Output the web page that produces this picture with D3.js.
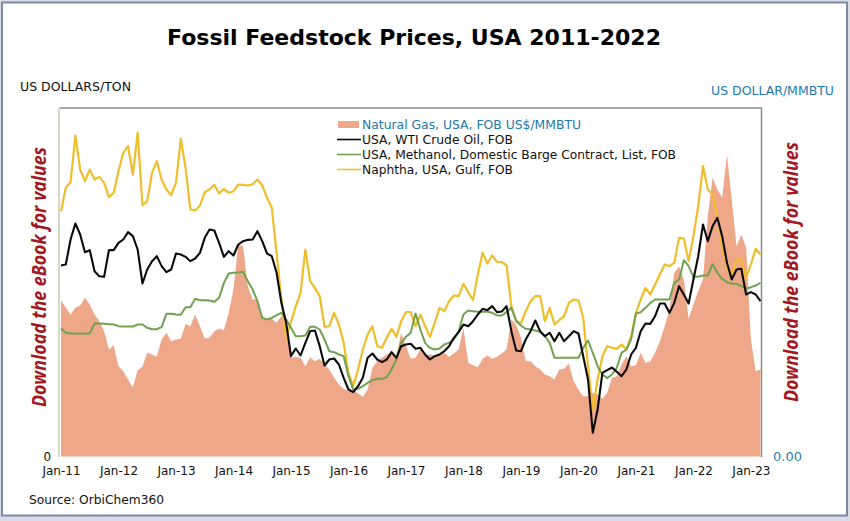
<!DOCTYPE html>
<html><head><meta charset="utf-8">
<script src="https://d3js.org/d3.v7.min.js"></script>
<style>html,body{margin:0;padding:0;background:#d9dce8;}svg{display:block;}text{font-family:"DejaVu Sans",Verdana,sans-serif;}</style>
</head><body><div id="chart"></div>
<script>
const title = "Fossil Feedstock Prices, USA 2011-2022";
const leftAxisTitle = "US DOLLARS/TON";
const rightAxisTitle = "US DOLLAR/MMBTU";
const source = "Source: OrbiChem360";
const watermark = "Download the eBook for values";
const tickLabels = ["Jan-11","Jan-12","Jan-13","Jan-14","Jan-15","Jan-16","Jan-17","Jan-18","Jan-19","Jan-20","Jan-21","Jan-22","Jan-23"];
const seriesNames = ["Natural Gas, USA, FOB US$/MMBTU","USA, WTI Crude Oil, FOB","USA, Methanol, Domestic Barge Contract, List, FOB","Naphtha, USA, Gulf, FOB"];

// Monthly values Jan-11 to Mar-23
const naturalGas = [4.69,4.46,4.26,4.46,4.53,4.76,4.56,4.26,4.06,3.76,3.21,3.34,2.71,2.56,2.31,2.08,2.59,2.69,3.11,3.06,2.99,3.51,3.71,3.46,3.51,3.53,3.98,3.91,4.26,3.91,3.54,3.56,3.76,3.84,3.79,4.31,5.01,6.36,6.31,5.11,4.71,4.71,4.21,4.11,4.13,4.01,4.21,4.11,2.96,2.99,2.96,2.71,2.96,2.86,2.93,2.76,2.61,2.36,2.16,2.03,1.96,2.01,1.89,1.79,2.01,2.66,2.86,2.96,3.06,3.13,3.01,3.71,3.31,2.93,2.96,3.21,3.03,3.06,3.03,3.09,3.11,2.99,3.09,3.21,3.86,2.81,2.74,2.68,2.93,3.03,2.93,2.99,3.09,3.21,4.11,3.96,3.56,2.86,2.86,2.71,2.61,2.46,2.41,2.31,2.61,2.63,2.79,2.26,2.01,1.81,1.81,1.91,1.86,1.73,1.91,2.36,2.41,2.76,3.01,2.71,2.74,3.11,2.81,2.86,3.11,3.46,3.91,4.41,5.51,5.71,5.31,4.13,4.56,4.96,5.31,7.21,8.36,8.01,7.76,9.06,7.71,6.31,6.66,6.26,3.51,2.56,2.61];
const wtiCrude = [573,576,651,699,666,613,619,556,541,539,619,619,641,651,673,661,621,519,561,586,601,571,553,561,609,606,599,586,594,611,656,681,678,641,599,616,603,636,646,650,651,676,646,609,601,551,461,401,301,324,303,341,376,378,331,273,291,294,276,236,201,193,211,236,296,309,291,283,291,313,296,331,336,338,323,326,306,291,301,306,316,331,356,373,396,391,406,426,443,439,451,433,435,451,376,318,316,351,376,408,376,361,371,346,371,346,361,376,369,301,231,71,141,251,259,267,254,241,261,306,326,376,399,398,421,459,459,431,461,511,486,459,531,601,696,646,691,716,661,581,531,561,563,486,493,486,466];
const methanol = [384,371,369,369,369,369,369,399,399,398,397,396,391,390,390,390,396,396,386,382,382,388,428,428,426,425,448,448,473,469,469,468,464,476,521,549,551,552,554,526,501,466,416,411,416,424,431,411,386,361,361,363,389,389,381,351,316,313,306,301,241,201,203,211,221,229,233,233,238,261,291,341,359,371,429,381,341,326,321,324,336,341,351,376,426,438,436,434,434,434,431,423,423,433,446,406,393,383,381,378,374,361,341,296,296,296,296,296,296,326,348,311,271,246,235,246,266,311,321,351,429,433,446,461,471,471,471,471,521,531,589,571,539,539,543,543,577,551,533,523,519,518,511,504,508,513,521];
const naphtha = [736,806,823,963,861,826,861,831,839,821,778,791,856,911,931,846,971,754,766,851,886,831,801,784,821,953,866,741,738,753,793,801,815,789,803,791,796,816,815,813,817,831,813,776,746,611,471,357,403,451,491,621,526,506,481,389,391,431,396,341,251,211,261,321,366,391,331,326,356,383,359,406,433,433,391,426,391,359,401,446,436,466,483,481,518,493,469,546,611,579,603,584,583,573,451,408,399,436,466,481,481,406,446,396,409,421,461,471,468,416,271,141,231,301,331,326,323,336,321,361,431,471,506,486,516,546,576,571,581,656,654,586,661,751,871,801,786,721,631,566,546,591,591,536,576,623,606];

const W = 850, H = 521;
const x = d3.scaleLinear().domain([0, 146]).range([61, 760.5]);
const yL = d3.scaleLinear().domain([0, 1047]).range([456.5, 107.5]);
const yR = d3.scaleLinear().domain([0, 10.47]).range([456.5, 107.5]);

const svg = d3.select("#chart").append("svg").attr("width", W).attr("height", H);
svg.append("rect").attr("x",2).attr("y",2.5).attr("width",845).attr("height",513)
  .attr("fill","#ffffff").attr("stroke","#7d8aa3").attr("stroke-width",2);

// plot frame
svg.append("line").attr("x1",59.5).attr("x2",762).attr("y1",108).attr("y2",108).attr("stroke","#8c8c8c").attr("stroke-width",1.5);
svg.append("line").attr("x1",59).attr("x2",59).attr("y1",108).attr("y2",457).attr("stroke","#c3cdb0").attr("stroke-width",1.5);
svg.append("line").attr("x1",761.5).attr("x2",761.5).attr("y1",108).attr("y2",457).attr("stroke","#8c8c8c").attr("stroke-width",1.5);

// area + lines
const area = d3.area().x((d,i)=>x(i)).y0(yR(0)).y1(d=>yR(d));
svg.append("path").datum(naturalGas).attr("d",area).attr("fill","#efa78a");
const line = d3.line().x((d,i)=>x(i)).y(d=>yL(d));
[[naphtha,"#f0bd2b",2.2],[methanol,"#70a252",2],[wtiCrude,"#0b0b0b",2.1]].forEach(([s,c,w])=>{
  svg.append("path").datum(s).attr("d",line).attr("fill","none").attr("stroke",c).attr("stroke-width",w).attr("stroke-linejoin","round");
});

// x axis
const xAxis = d3.axisBottom(x).tickValues(tickLabels.map((_,i)=>i*12)).tickFormat((d,i)=>tickLabels[i]).tickSize(0).tickPadding(0);
const gx = svg.append("g").attr("transform","translate(0,466)").call(xAxis);
gx.select(".domain").remove();
gx.selectAll("text").attr("font-size",12).attr("fill","#111").attr("font-family","DejaVu Sans");

// text helper
function label(t,xp,yp,opt={}){
  const e = svg.append("text").attr("x",xp).attr("y",yp).text(t)
    .attr("font-size",opt.size||12).attr("fill",opt.fill||"#111");
  if(opt.anchor) e.attr("text-anchor",opt.anchor);
  if(opt.weight) e.attr("font-weight",opt.weight);
  if(opt.len) e.attr("textLength",opt.len).attr("lengthAdjust","spacingAndGlyphs");
  return e;
}
label(title,167,45,{size:21,weight:"bold",fill:"#000",len:494});
label(leftAxisTitle,20,91,{size:11.5,len:111});
label(rightAxisTitle,711,95,{size:12,fill:"#2279ad",len:123});
label("0",43.5,461,{size:12});
label("0.00",773,461,{size:12,fill:"#2f7fb0",len:29});
label(source,29,504,{size:12,len:135});

// legend
const legendY = [124.5,139.5,154.5,169.5];
const legendLen = [219,151,314,151];
svg.append("rect").attr("x",338).attr("y",121).attr("width",21).attr("height",7).attr("fill","#efa78a");
[["#0b0b0b",1],["#70a252",2],["#f0bd2b",3]].forEach(([c,i])=>{
  svg.append("line").attr("x1",337).attr("x2",361).attr("y1",legendY[i]).attr("y2",legendY[i]).attr("stroke",c).attr("stroke-width",1.6);
});
seriesNames.forEach((n,i)=>{
  label(n,362,legendY[i]+4.2,{size:11.8,fill:i==0?"#2279ad":"#111",len:legendLen[i]});
});

// watermarks
[[46,407],[798,402]].forEach(([a,b])=>{
  svg.append("text").attr("transform",`translate(${a},${b}) rotate(-90)`).text(watermark)
    .attr("font-size",19).attr("font-weight","bold").attr("font-style","italic")
    .attr("fill","#a3191f").style("font-family","'Open Sans'")
    .attr("textLength",260).attr("lengthAdjust","spacingAndGlyphs");
});
</script></body></html>
